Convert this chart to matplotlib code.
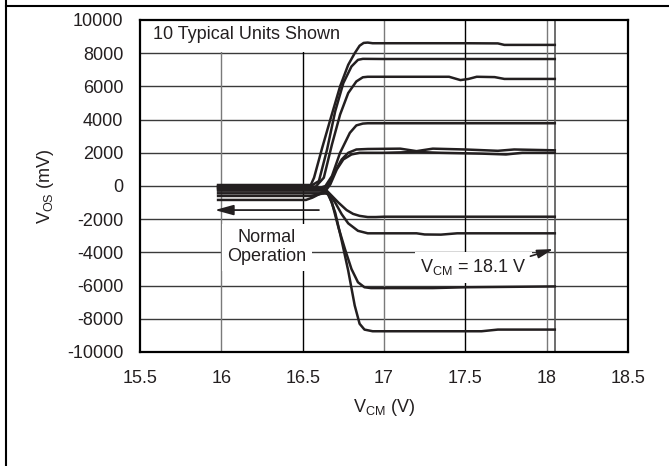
import matplotlib
matplotlib.use("Agg")
import matplotlib.pyplot as plt
from matplotlib.lines import Line2D

plt.rcParams['font.family'] = ['Liberation Sans', 'DejaVu Sans']
plt.rcParams['mathtext.fontset'] = 'custom'
plt.rcParams['mathtext.rm'] = 'Liberation Sans'
plt.rcParams['mathtext.it'] = 'Liberation Sans'

# ---- data (V_CM in V, V_OS in mV) ----
unit1_x = [15.98, 16.55, 16.57, 16.62, 16.67, 16.73, 16.78, 16.82, 16.85, 16.875, 16.90, 16.93, 17.50, 17.70, 17.74, 18.05]
unit1_y = [60, 60, 500, 2300, 4000, 6000, 7300, 8000, 8450, 8620, 8640, 8600, 8600, 8590, 8500, 8500]

unit2_x = [15.98, 16.55, 16.60, 16.65, 16.70, 16.75, 16.80, 16.84, 16.87, 17.00, 18.05]
unit2_y = [0, 0, 300, 2200, 4500, 6200, 7200, 7600, 7660, 7650, 7650]

unit3_x = [15.98, 16.58, 16.63, 16.68, 16.73, 16.78, 16.83, 16.87, 16.90, 17.40, 17.47, 17.52, 17.57, 17.68, 17.74, 18.05]
unit3_y = [-40, -40, 500, 2500, 4300, 5600, 6300, 6550, 6580, 6580, 6380, 6450, 6580, 6560, 6450, 6450]

unit4_x = [15.98, 16.60, 16.64, 16.68, 16.73, 16.79, 16.83, 16.87, 16.90, 18.05]
unit4_y = [-140, -140, 0, 600, 2000, 3200, 3650, 3760, 3780, 3780]

unit5_x = [15.98, 16.62, 16.66, 16.70, 16.74, 16.78, 16.83, 16.90, 17.10, 17.20, 17.30, 17.50, 17.70, 17.80, 18.05]
unit5_y = [-280, -280, 100, 900, 1600, 2000, 2200, 2230, 2250, 2100, 2250, 2200, 2120, 2200, 2150]

unit6_x = [15.98, 16.63, 16.67, 16.71, 16.75, 16.80, 16.85, 17.00, 17.20, 17.35, 17.60, 17.75, 17.85, 18.05]
unit6_y = [-440, -440, 100, 1000, 1600, 1900, 2000, 2000, 2050, 2000, 1950, 1900, 2000, 2000]

unit7_x = [15.98, 16.60, 16.65, 16.68, 16.72, 16.77, 16.81, 16.85, 16.90, 16.95, 17.00, 18.05]
unit7_y = [-100, -100, -300, -600, -1000, -1450, -1680, -1800, -1870, -1870, -1850, -1850]

unit8_x = [15.98, 16.60, 16.66, 16.70, 16.74, 16.78, 16.84, 16.90, 17.20, 17.25, 17.35, 17.45, 18.05]
unit8_y = [-200, -200, -450, -1000, -1700, -2250, -2700, -2850, -2850, -2920, -2930, -2850, -2850]

unit9_x = [15.98, 16.55, 16.60, 16.65, 16.68, 16.72, 16.76, 16.80, 16.84, 16.88, 16.92, 17.30, 17.50, 18.05]
unit9_y = [-600, -600, -500, -400, -1000, -2500, -3800, -5000, -5800, -6100, -6150, -6150, -6100, -6050]

unit10_x = [15.98, 16.52, 16.56, 16.62, 16.66, 16.70, 16.74, 16.78, 16.82, 16.85, 16.88, 16.93, 17.60, 17.70, 18.05]
unit10_y = [-840, -840, -700, -400, -500, -1600, -3300, -5100, -7200, -8300, -8650, -8750, -8750, -8650, -8650]

units_x = [unit1_x, unit2_x, unit3_x, unit4_x, unit5_x, unit6_x, unit7_x, unit8_x, unit9_x, unit10_x]
units_y = [unit1_y, unit2_y, unit3_y, unit4_y, unit5_y, unit6_y, unit7_y, unit8_y, unit9_y, unit10_y]

x_ticks = [15.5, 16, 16.5, 17, 17.5, 18, 18.5]
x_tick_labels = ['15.5', '16', '16.5', '17', '17.5', '18', '18.5']
y_ticks = [-10000, -8000, -6000, -4000, -2000, 0, 2000, 4000, 6000, 8000, 10000]
y_tick_labels = ['-10000', '-8000', '-6000', '-4000', '-2000', '0', '2000', '4000', '6000', '8000', '10000']
vcm_marker = 18.05

INK = '#231f20'
FS = 13

fig = plt.figure(figsize=(6.69, 4.66), dpi=100)
ax = fig.add_axes([140/669, 1-352/466, 488/669, 332/466])
ax.set_xlim(15.5, 18.5)
ax.set_ylim(-10000, 10000)

# grid
for yv in y_ticks[1:-1]:
    ax.axhline(yv, color='#3a3a3a', lw=1.0, zorder=1)
vcolors = {16: '#7a7a7a', 16.5: '#000000', 17: '#7a7a7a', 17.5: '#000000', 18: '#7a7a7a'}
for xv in x_ticks[1:-1]:
    ax.axvline(xv, color=vcolors.get(xv, '#555555'), lw=1.0, zorder=1)
ax.axvline(vcm_marker, color='#555555', lw=1.2, zorder=1)

for xs, ys in zip(units_x, units_y):
    ax.plot(xs, ys, color=INK, lw=1.8, solid_joinstyle='round', zorder=3)

ax.set_xticks(x_ticks)
ax.set_xticklabels(x_tick_labels)
ax.set_yticks(y_ticks)
ax.set_yticklabels(y_tick_labels)
ax.tick_params(axis='x', length=0, pad=13, labelsize=FS, labelcolor=INK)
ax.tick_params(axis='y', length=0, pad=12, labelsize=FS, labelcolor=INK)
for s in ax.spines.values():
    s.set_linewidth(1.6)
    s.set_color('black')
    s.set_zorder(5)

ax.set_xlabel(r'V$_{\rm CM}$ (V)', fontsize=FS, color=INK)
ax.xaxis.set_label_coords(0.5, -0.135)
ax.set_ylabel(r'V$_{\rm OS}$ (mV)', fontsize=FS, color=INK)
ax.yaxis.set_label_coords(-0.172, 0.5)

# annotations
ax.text(15.58, 9100, '10 Typical Units Shown', fontsize=FS, color=INK, ha='left', va='center',
        zorder=4, bbox=dict(boxstyle='square,pad=0.45', fc='white', ec='none'))
ax.text(16.28, -3700, 'Normal\nOperation', fontsize=FS, color=INK, ha='center', va='center',
        linespacing=1.15, zorder=4, bbox=dict(boxstyle='square,pad=0.3', fc='white', ec='none'))
ax.annotate('', xy=(15.96, -1450), xytext=(16.6, -1450),
            arrowprops=dict(arrowstyle='-|>,head_length=0.8,head_width=0.22', color=INK, lw=1.3,
                            mutation_scale=14, shrinkA=0, shrinkB=0), zorder=4)
ax.text(17.55, -4900, r'V$_{\rm CM}$ = 18.1 V', fontsize=FS, color=INK, ha='center', va='center',
        zorder=4, bbox=dict(boxstyle='square,pad=0.3', fc='white', ec='none'))
ax.annotate('', xy=(18.04, -3800), xytext=(17.9, -4230),
            arrowprops=dict(arrowstyle='-|>,head_length=0.8,head_width=0.22', color=INK, lw=1.2,
                            mutation_scale=12, shrinkA=0, shrinkB=0), zorder=4)

# outer frame lines
fig.add_artist(Line2D([6/669, 6/669], [0, 1], color='black', lw=1.5))
fig.add_artist(Line2D([6/669, 1], [1-6/466, 1-6/466], color='black', lw=1.5))

fig.savefig('out.png', dpi=100)
